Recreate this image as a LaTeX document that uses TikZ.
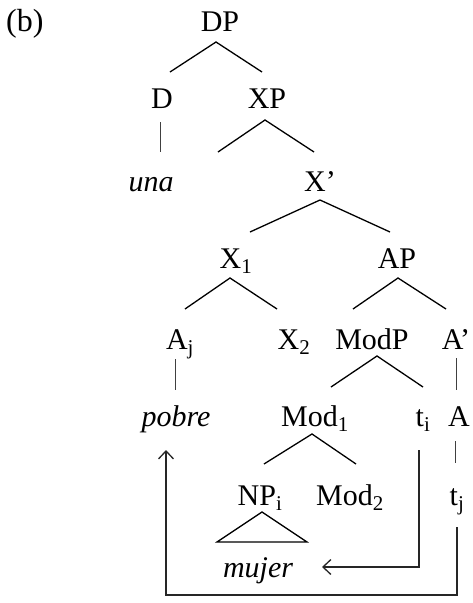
\documentclass[tikz,border=0pt]{standalone}
\usepackage{fontspec}
\setmainfont{Liberation Serif}
\usepackage{tikz}
\usetikzlibrary{arrows.meta}

\begin{document}
\begin{tikzpicture}[
    x=1pt, y=-1pt,
    font=\fontsize{30}{36}\selectfont,
    lab/.style={anchor=base, inner sep=0pt},
    branch/.style={line width=1.3pt},
    bar/.style={line width=1pt, black!75},
    move/.style={line width=1.3pt, black!85, -{Straight Barb[length=8pt, width=15pt, line width=1.3pt]}}
]
\useasboundingbox (0,0) rectangle (473,603);

% labels
\node[lab, anchor=base west, font=\fontsize{32}{38}\selectfont] (ex) at (6,31) {(b)};
\node[lab] (DP) at (220,31) {DP};
\node[lab] (D) at (162,108) {D};
\node[lab] (XP) at (267,108) {XP};
\node[lab] (una) at (151,191) {\itshape una};
\node[lab] (Xbar) at (320,191) {X’};
\node[lab] (X1) at (236,268) {X\textsubscript{1}};
\node[lab] (AP) at (397,268) {AP};
\node[lab] (Aj) at (180,349) {A\textsubscript{j}};
\node[lab] (X2) at (294,349) {X\textsubscript{2}};
\node[lab] (ModP) at (372,349) {ModP};
\node[lab] (Abar) at (456,349) {A’};
\node[lab] (pobre) at (176,426) {\itshape pobre};
\node[lab] (Mod1) at (315,426) {Mod\textsubscript{1}};
\node[lab] (ti) at (423,426) {t\textsubscript{i}};
\node[lab] (A) at (459,426) {A};
\node[lab] (NPi) at (260,505) {NP\textsubscript{i}};
\node[lab] (Mod2) at (350,505) {Mod\textsubscript{2}};
\node[lab] (tj) at (457,505) {t\textsubscript{j}};
\node[lab] (mujer) at (258,577) {\itshape mujer};

% branches
\draw[branch] ([shift={(8,-36)}]D.base) -- ([shift={(-4,11)}]DP.base) -- ([shift={(-5,-36)}]XP.base);
\draw[bar] ([shift={(-2,14)}]D.base) -- ([shift={(9,-39)}]una.base);
\draw[branch] ([shift={(-49,44)}]XP.base) -- ([shift={(-2,12)}]XP.base) -- ([shift={(-6,-39)}]Xbar.base);
\draw[branch] ([shift={(14,-36)}]X1.base) -- ([shift={(0,9)}]Xbar.base) -- ([shift={(-7,-36)}]AP.base);
\draw[branch] ([shift={(5,-40)}]Aj.base) -- ([shift={(-6,10)}]X1.base) -- ([shift={(-17,-40)}]X2.base);
\draw[branch] ([shift={(-19,-40)}]ModP.base) -- ([shift={(1,10)}]AP.base) -- ([shift={(-10,-40)}]Abar.base);
\draw[bar] ([shift={(-5,10)}]Aj.base) -- ([shift={(-1,-36)}]pobre.base);
\draw[bar] ([shift={(0,9)}]Abar.base) -- ([shift={(-3,-36)}]A.base);
\draw[branch] ([shift={(16,-39)}]Mod1.base) -- ([shift={(5,7)}]ModP.base) -- ([shift={(0,-39)}]ti.base);
\draw[branch] ([shift={(4,-41)}]NPi.base) -- ([shift={(-3,8)}]Mod1.base) -- ([shift={(6,-41)}]Mod2.base);
\draw[bar] ([shift={(-4,15)}]A.base) -- ([shift={(-2,-42)}]tj.base);
\draw[branch] ([shift={(2,7)}]NPi.base) -- ([shift={(-41,-35)}]mujer.base) -- ([shift={(49,-35)}]mujer.base) -- cycle;

% movement
\draw[move] ([shift={(-4,24)}]ti.base) |- ([shift={(64,-10)}]mujer.base);
\draw[move] ([shift={(0,22)}]tj.base) -- ([shift={(0,90)}]tj.base) -| ([shift={(-10,24)}]pobre.base);
\end{tikzpicture}
\end{document}
